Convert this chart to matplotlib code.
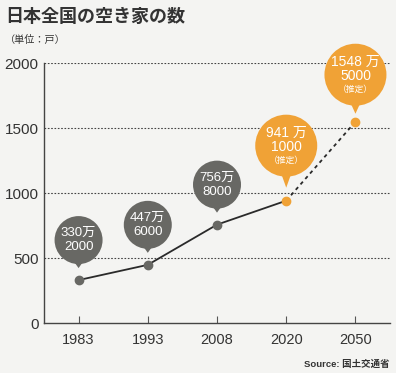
import matplotlib
matplotlib.use("Agg")
import matplotlib.pyplot as plt
from matplotlib import patches, transforms

plt.rcParams['font.family'] = ['Liberation Sans', 'Noto Sans CJK JP', 'DejaVu Sans']

years = ["1983", "1993", "2008", "2020", "2050"]
values = [330.2, 447.6, 756.8, 941.1, 1548.5]
label_main = ["330万", "447万", "756万", "941 万", "1548 万"]
label_sub = ["2000", "6000", "8000", "1000", "5000"]
estimated = [False, False, False, True, True]
yticks = [0, 500, 1000, 1500, 2000]

title = "日本全国の空き家の数"
unit = "（単位：戸）"
source = "Source: 国土交通省"

GRAY = "#686864"
ORANGE = "#f0a236"
BG = "#f4f4f2"
TXT = "#333333"

fig = plt.figure(figsize=(3.96, 3.73), dpi=100, facecolor=BG)
ax = fig.add_axes([0.111, 0.134, 0.874, 0.697])
ax.set_facecolor(BG)

x = list(range(len(years)))
n_act = estimated.index(True)
ax.plot(x[:n_act + 1], values[:n_act + 1], color="#2a2a2a", lw=1.3, zorder=3)
ax.plot(x[n_act:], values[n_act:], color="#2a2a2a", lw=1.3,
        linestyle=(0, (2, 2)), zorder=3)
for i in x:
    c = ORANGE if estimated[i] else GRAY
    ax.plot(i, values[i], 'o', color=c, ms=6, zorder=4, mec=c)

ax.set_xlim(-0.5, 4.5)
ax.set_ylim(0, 2000)
ax.set_yticks(yticks)
ax.set_yticklabels([str(t) for t in yticks])
ax.set_xticks(x)
ax.set_xticklabels(years)
ax.tick_params(axis='y', length=0, pad=4, labelsize=11, labelcolor=TXT)
ax.tick_params(axis='x', direction='in', length=5, width=0.8, color="#555555",
               pad=7, labelsize=10.5, labelcolor=TXT)
for s in ['top', 'right']:
    ax.spines[s].set_visible(False)
for s in ['left', 'bottom']:
    ax.spines[s].set_color("#444444")
    ax.spines[s].set_linewidth(1.0)
for t in yticks[1:]:
    ax.axhline(t, color="#444444", lw=0.8, linestyle=(0, (1.5, 1.5)), zorder=1)

# bubbles: (center offset px, radius px, tip offset px)
bubble_style = [(40, 24, 12), (40, 24, 12), (40, 24, 12), (55, 31, 13), (47, 31, 8)]
for i in x:
    off, r, tip = bubble_style[i]
    c = ORANGE if estimated[i] else GRAY
    tr = fig.dpi_scale_trans + transforms.ScaledTranslation(i, values[i], ax.transData)
    circ = patches.Circle((0, off / 100), r / 100, transform=tr, facecolor=c,
                          edgecolor='none', clip_on=False, zorder=5)
    ax.add_patch(circ)
    tri = patches.Polygon([(-5 / 100, (off - r + 3) / 100), (5 / 100, (off - r + 3) / 100),
                           (0, tip / 100)], closed=True, transform=tr, facecolor=c,
                          edgecolor='none', clip_on=False, zorder=5)
    ax.add_patch(tri)
    if estimated[i]:
        ax.text(0, (off + 13) / 100, label_main[i], transform=tr, ha='center', va='center',
                color='white', fontsize=10, zorder=6)
        ax.text(0, (off - 1) / 100, label_sub[i], transform=tr, ha='center', va='center',
                color='white', fontsize=10, zorder=6)
        ax.text(0, (off - 15) / 100, "（推定）", transform=tr, ha='center', va='center',
                color='white', fontsize=6.3, zorder=6)
    else:
        ax.text(0, (off + 7) / 100, label_main[i], transform=tr, ha='center', va='center',
                color='white', fontsize=9.5, zorder=6)
        ax.text(0, (off - 7) / 100, label_sub[i], transform=tr, ha='center', va='center',
                color='white', fontsize=9.5, zorder=6)

fig.text(5 / 396, 1 - 16 / 373, title, fontsize=13, fontweight='bold', color="#333333",
         ha='left', va='center', family=['Noto Sans CJK JP'])
fig.text(5 / 396, 1 - 40 / 373, unit, fontsize=7.3, color="#333333",
         ha='left', va='center', family=['Noto Sans CJK JP'])
fig.text(390 / 396, 1 - 364 / 373, source, fontsize=6.8, color="#333333",
         ha='right', va='center', fontweight='bold',
         family=['Liberation Sans', 'Noto Sans CJK JP'])

fig.savefig("out.png", dpi=100, facecolor=BG)
